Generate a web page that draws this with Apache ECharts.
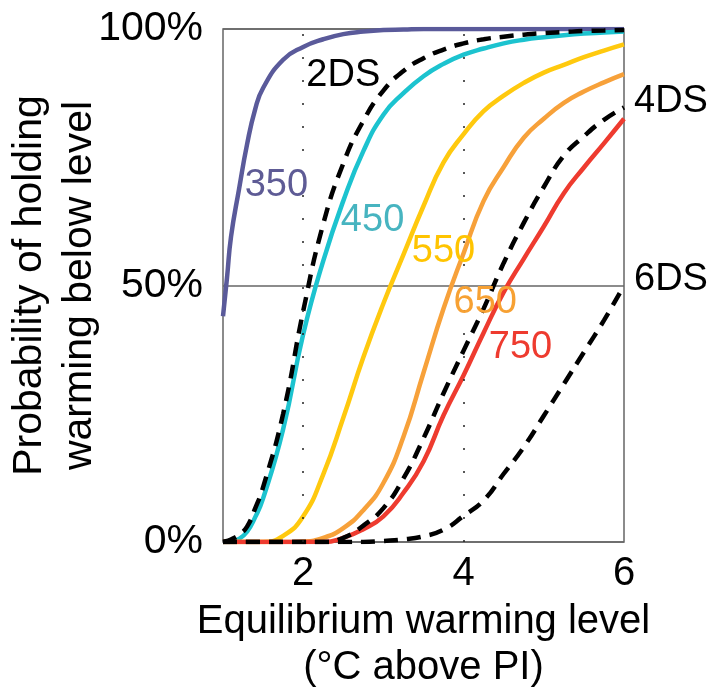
<!DOCTYPE html>
<html>
<head>
<meta charset="utf-8">
<script src="https://cdn.jsdelivr.net/npm/echarts@6.0.0/dist/echarts.min.js"></script>
<style>
  html, body { margin: 0; padding: 0; background: #fff; }
  #chart { width: 717px; height: 689px; }
</style>
</head>
<body>
<div id="chart"></div>
<script>
// equilibrium warming (deg C above PI) where every curve is read
const warming = [1, 1.05, 1.1, 1.2, 1.3, 1.4, 1.5, 1.75, 2, 2.25, 2.5, 2.75, 3, 3.25, 3.5, 3.75, 4, 4.25, 4.5, 4.75, 5, 5.25, 5.5, 5.75, 6]

// probability (%) of holding warming below level, per stabilisation level (ppm)
const p350 = [44, 51.5, 59.5, 68.8, 77.5, 84.3, 88.5, 94, 96.5, 98, 99, 99.5, 99.8, 99.9, 100, 100, 100, 100, 100, 100, 100, 100, 100, 100, 100]
const p450 = [0, 0, 0.1, 0.6, 2, 4.8, 8.5, 22, 40.5, 54.8, 66.5, 76.2, 83.3, 87.5, 90.8, 93.2, 95, 96.2, 97.2, 97.9, 98.4, 98.8, 99.1, 99.3, 99.5]
const p550 = [0, 0, 0, 0, 0, 0, 0, 1.2, 5, 13.2, 24.2, 36, 46.5, 56, 65.5, 74, 79.5, 84, 87, 89.5, 91.5, 93, 94.5, 95.8, 97]
const p650 = [0, 0, 0, 0, 0, 0, 0, 0, 0.1, 0.8, 2.7, 6.2, 11.5, 20.5, 33, 45.5, 56.3, 66.5, 73.1, 78.8, 82.5, 85.6, 87.8, 89.6, 91.2]
const p750 = [0, 0, 0, 0, 0, 0, 0, 0, 0, 0, 0.8, 2.5, 5, 9.6, 15.7, 24.7, 32.5, 40.8, 48.7, 55.2, 61.5, 68, 73, 77.7, 82.5]

// degree-of-warming scenarios (dashed)
const ds2 = [0, 0.2, 0.5, 1.4, 3, 6.5, 10.7, 25, 45, 62, 73.8, 82.1, 88, 91.8, 94.3, 96, 97.2, 98, 98.5, 98.9, 99.2, 99.4, 99.6, 99.7, 99.8]
const ds4 = [0, 0, 0, 0, 0, 0, 0, 0, 0, 0, 0.8, 3.2, 6.6, 12.4, 20.2, 29, 37.3, 45.5, 54.4, 62.2, 69.2, 75.3, 79.1, 82.3, 84.7]
const ds6 = [0, 0, 0, 0, 0, 0, 0, 0, 0, 0, 0, 0, 0.2, 0.5, 1.1, 2.4, 5.1, 8.1, 13.3, 18.5, 24.6, 30.8, 37, 43.2, 50]

// in-plot curve labels
const labelText = ['350', '450', '550', '650', '750', '2DS']
const labelX = [1.665, 2.865, 3.75, 4.27, 4.71, 2.5]
const labelY = [69.5, 62.7, 56.7, 46.7, 38, 91]

const xTicks = [2, 4, 6]
const dottedAt = [2, 4]

const FONT = 'Liberation Sans, Arial, Helvetica, sans-serif'
const labelColors = {
  '350': '#5e5b95',
  '450': '#47b4c0',
  '550': '#ffc400',
  '650': '#f7a133',
  '750': '#ee3b2f',
  '2DS': '#000'
}

const pairs = arr => warming.map((x, i) => [x, arr[i]])

function solid(name, data, color) {
  return {
    name,
    type: 'line',
    data: pairs(data),
    smooth: 0.5,
    showSymbol: false,
    lineStyle: { color, width: 4.5 },
    z: 2
  }
}

function dashed(name, data, endText) {
  const s = {
    name,
    type: 'line',
    data: pairs(data),
    smooth: 0.5,
    showSymbol: false,
    lineStyle: { color: '#000', width: 4.5, type: [14, 9] },
    z: 3
  }
  if (endText) {
    s.endLabel = {
      show: true,
      formatter: endText,
      fontFamily: FONT,
      fontSize: 38,
      color: '#000',
      distance: 10,
      offset: [0, -6]
    }
  }
  return s
}

const chart = echarts.init(document.getElementById('chart'))

chart.setOption({
  animation: false,
  backgroundColor: '#fff',
  grid: {
    left: 223,
    top: 29,
    right: 93,
    bottom: 147,
    outerBoundsMode: 'none',
    containLabel: false,
    show: true,
    borderColor: '#666',
    borderWidth: 1.5
  },
  xAxis: {
    type: 'value',
    min: 1,
    max: 6,
    interval: 1,
    axisLine: { show: false },
    axisTick: { show: false },
    splitLine: { show: false },
    axisLabel: {
      margin: 12,
      fontFamily: FONT,
      fontSize: 40,
      color: '#000',
      formatter: v => (xTicks.indexOf(v) >= 0 ? String(v) : '')
    },
    name: 'Equilibrium warming level\n(°C above PI)',
    nameLocation: 'middle',
    nameGap: 57,
    nameTextStyle: {
      fontFamily: FONT,
      fontSize: 40,
      color: '#000',
      lineHeight: 46
    }
  },
  yAxis: {
    type: 'value',
    min: 0,
    max: 100,
    interval: 50,
    axisLine: { show: false },
    axisTick: { show: false },
    splitLine: { show: true, lineStyle: { color: '#666', width: 1.5 } },
    axisLabel: {
      margin: 20,
      fontFamily: FONT,
      fontSize: 41,
      color: '#000',
      padding: [12, 0, 0, 0],
      formatter: '{value}%'
    },
    name: 'Probability of holding\nwarming below level',
    nameLocation: 'middle',
    nameRotate: 90,
    nameGap: 118,
    nameMoveOverlap: false,
    nameTextStyle: {
      fontFamily: FONT,
      fontSize: 41,
      color: '#000',
      lineHeight: 50
    }
  },
  series: [
    solid('350', p350, '#5a5a9a'),
    solid('450', p450, '#1cc3cf'),
    solid('550', p550, '#ffc90e'),
    solid('650', p650, '#f7a13a'),
    solid('750', p750, '#ee3b2f'),
    Object.assign(dashed('2DS', ds2), {
      markLine: {
        silent: true,
        symbol: 'none',
        label: { show: false },
        lineStyle: { color: '#222', width: 1.5, type: [2, 21] },
        data: dottedAt.map(x => ({ xAxis: x }))
      }
    }),
    dashed('4DS', ds4, '4DS'),
    dashed('6DS', ds6, '6DS'),
    {
      name: 'labels',
      type: 'scatter',
      symbolSize: 0,
      silent: true,
      z: 5,
      itemStyle: { opacity: 1 },
      data: labelText.map((t, i) => ({
        value: [labelX[i], labelY[i]],
        label: {
          show: true,
          position: [0, 0],
          align: 'center',
          verticalAlign: 'middle',
          formatter: t,
          fontFamily: FONT,
          fontSize: 38,
          color: labelColors[t]
        }
      }))
    }
  ]
})
</script>
</body>
</html>
